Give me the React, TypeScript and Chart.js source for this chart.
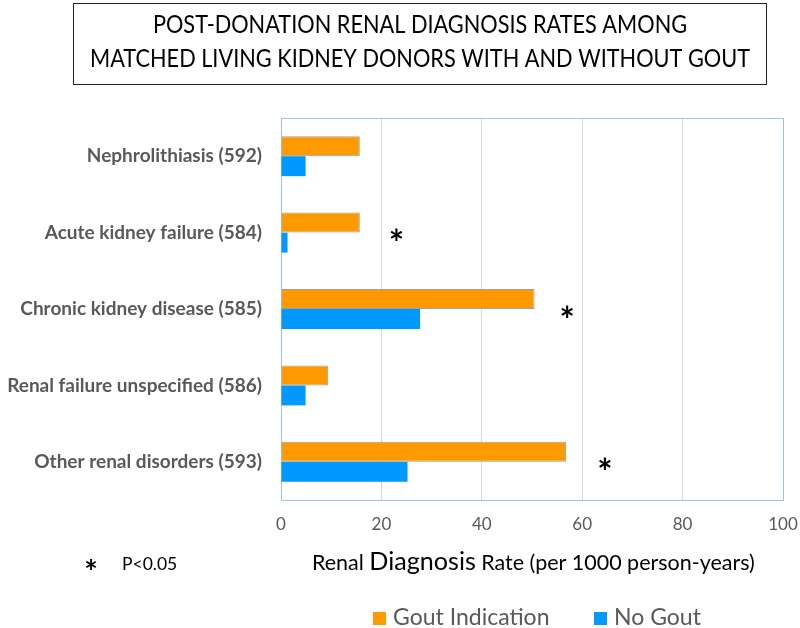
import React, { useEffect, useRef } from 'react';
import { Chart, registerables } from 'chart.js';

Chart.register(...registerables);

const categories = [
  'Nephrolithiasis (592)',
  'Acute kidney failure (584)',
  'Chronic kidney disease (585)',
  'Renal failure unspecified (586)',
  'Other renal disorders (593)',
];
const goutValues = [15.7, 15.7, 50.5, 9.4, 56.8];
const noGoutValues = [4.9, 1.3, 27.7, 4.9, 25.2];
const significanceMarkX: (number | null)[] = [null, 23, 57, null, 64.5];
const seriesLabels = ['Gout Indication', 'No Gout'];
const titleLines = [
  'POST-DONATION RENAL DIAGNOSIS RATES AMONG',
  'MATCHED LIVING KIDNEY DONORS WITH AND WITHOUT GOUT',
];
const axisTitleParts = ['Renal ', 'Diagnosis', ' Rate (per 1000 person-years)'];
const pNote = 'P<0.05';
const xMin = 0;
const xMax = 100;
const xStep = 20;

const FONT = 'Lato, "Open Sans", sans-serif';
const ORANGE = '#ff9900';
const BLUE = '#0099ff';

function drawCentered(ctx: CanvasRenderingContext2D, txt: string, cx: number, cy: number) {
  const m = ctx.measureText(txt);
  const a = m.actualBoundingBoxAscent;
  const d = m.actualBoundingBoxDescent;
  ctx.textAlign = 'center';
  ctx.textBaseline = 'alphabetic';
  ctx.fillText(txt, cx, cy + (a - d) / 2);
}

const decorPlugin = {
  id: 'decor',
  beforeDraw(chart: any) {
    const ctx = chart.ctx;
    ctx.save();
    ctx.fillStyle = '#ffffff';
    ctx.fillRect(0, 0, chart.width, chart.height);
    ctx.restore();
  },
  beforeDatasetsDraw(chart: any) {
    const ctx = chart.ctx;
    const { left, right, top, bottom } = chart.chartArea;
    ctx.save();
    ctx.strokeStyle = '#9dc3e6';
    ctx.lineWidth = 1;
    ctx.strokeRect(Math.round(left) + 0.5, Math.round(top) + 0.5, Math.round(right - left), Math.round(bottom - top));
    ctx.restore();
  },
  afterDraw(chart: any) {
    const ctx = chart.ctx;
    const xs = chart.scales.x;
    const ys = chart.scales.y;
    ctx.save();

    // Title box
    ctx.strokeStyle = '#222222';
    ctx.lineWidth = 1;
    ctx.strokeRect(73.5, 3.5, 693, 81);
    ctx.fillStyle = '#000000';
    ctx.font = `22px ${FONT}`;
    const w = ctx.measureText(titleLines[1]).width;
    const ts = 22 * 660 / w;
    ctx.font = `${ts}px ${FONT}`;
    ctx.textAlign = 'center';
    ctx.textBaseline = 'alphabetic';
    ctx.save();
    ctx.translate(420, 0);
    ctx.scale(1, 1.12);
    ctx.fillText(titleLines[0], 0, 33 / 1.12);
    ctx.fillText(titleLines[1], 0, 67 / 1.12);
    ctx.restore();

    // Significance asterisks
    ctx.fillStyle = '#000000';
    ctx.font = `bold 36px ${FONT}`;
    significanceMarkX.forEach((v, i) => {
      if (v == null) return;
      const x = xs.getPixelForValue(v);
      const y = ys.getPixelForValue(i) + 2;
      drawCentered(ctx, '*', x, y);
    });

    // P note
    ctx.font = `bold 32px ${FONT}`;
    drawCentered(ctx, '*', 91, 564);
    ctx.font = `17.5px ${FONT}`;
    ctx.textAlign = 'left';
    ctx.textBaseline = 'alphabetic';
    ctx.fillText(pNote, 122, 570);

    // Axis title with mixed sizes, fitted to width
    const rel = [1, 1.17, 1];
    const base = 20;
    let total = 0;
    axisTitleParts.forEach((p, i) => {
      ctx.font = `${base * rel[i]}px ${FONT}`;
      total += ctx.measureText(p).width;
    });
    const k = 443 / total;
    let x = 533.5 - 443 / 2;
    ctx.textAlign = 'left';
    ctx.textBaseline = 'alphabetic';
    axisTitleParts.forEach((p, i) => {
      ctx.font = `${base * rel[i] * k}px ${FONT}`;
      ctx.fillText(p, x, 570);
      x += ctx.measureText(p).width;
    });

    // Legend
    const legendX = [373, 594];
    ctx.font = `23px ${FONT}`;
    ctx.textBaseline = 'middle';
    chart.data.datasets.forEach((ds: any, i: number) => {
      ctx.fillStyle = ds.backgroundColor;
      ctx.fillRect(legendX[i], 612, 13, 13);
      ctx.fillStyle = '#595959';
      ctx.fillText(ds.label, legendX[i] + 20, 618);
    });

    ctx.restore();
  },
};

export default function App() {
  const ref = useRef<HTMLCanvasElement>(null);
  useEffect(() => {
    if (!ref.current) return;
    const chart = new Chart(ref.current, {
      type: 'bar',
      data: {
        labels: categories,
        datasets: [
          {
            label: seriesLabels[0],
            data: goutValues,
            backgroundColor: ORANGE,
            borderColor: '#a0a0a0',
            borderWidth: 1,
            categoryPercentage: 0.523,
            barPercentage: 1,
          },
          {
            label: seriesLabels[1],
            data: noGoutValues,
            backgroundColor: BLUE,
            borderColor: BLUE,
            borderWidth: 0,
            categoryPercentage: 0.523,
            barPercentage: 1,
          },
        ],
      },
      options: {
        indexAxis: 'y',
        responsive: false,
        animation: false,
        layout: { padding: { top: 118, right: 17, bottom: 98, left: 0 } },
        plugins: {
          legend: { display: false },
          title: { display: false },
          tooltip: { enabled: false },
        },
        scales: {
          x: {
            type: 'linear',
            min: xMin,
            max: xMax,
            ticks: {
              stepSize: xStep,
              color: '#595959',
              font: { family: FONT, size: 17 },
              padding: 14,
            },
            grid: { color: '#d9d9d9', drawTicks: false },
            border: { display: false },
            afterFit: (s: any) => {
              s.height = 30;
              s.paddingRight = 0;
              s.paddingLeft = 0;
            },
          },
          y: {
            type: 'category',
            ticks: {
              color: '#595959',
              font: { family: FONT, size: 19, weight: 'bold' },
              padding: 19,
            },
            grid: { display: false, drawTicks: false },
            border: { display: false },
            afterFit: (s: any) => {
              s.width = 281;
            },
          },
        },
      },
      plugins: [decorPlugin],
    } as any);
    return () => chart.destroy();
  }, []);
  return (
    <div style={{ position: 'absolute', left: 0, top: 0, width: 800, height: 628 }}>
      <canvas ref={ref} width={800} height={628} style={{ width: 800, height: 628 }} />
    </div>
  );
}
